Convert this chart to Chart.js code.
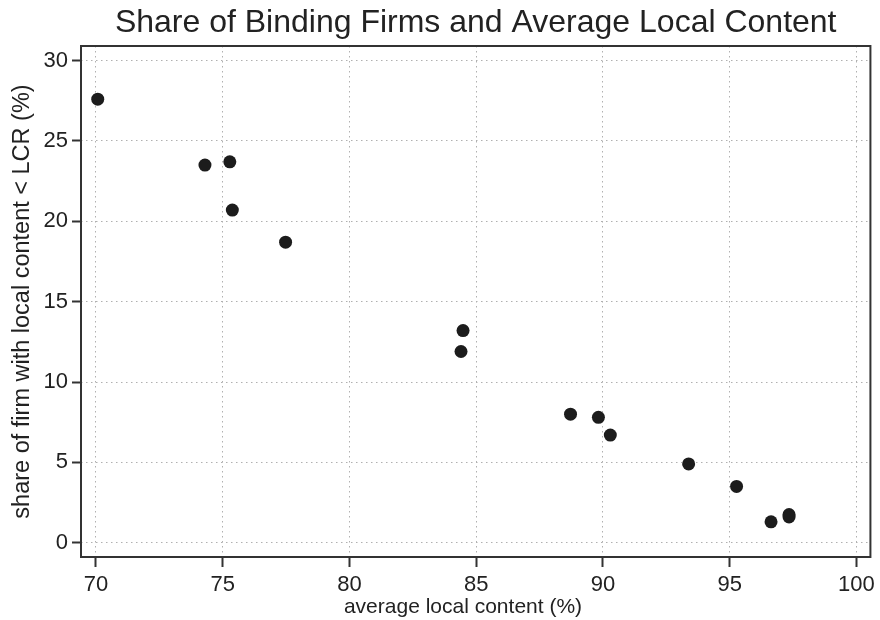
<!DOCTYPE html>
<html>
<head>
<meta charset="utf-8">
<script src="https://cdn.jsdelivr.net/npm/chart.js@4/dist/chart.umd.min.js"></script>
<style>
html,body{margin:0;padding:0;background:#fff;}
#wrap{width:880px;height:620px;}
</style>
</head>
<body>
<div id="wrap"><canvas id="c" width="880" height="620"></canvas></div>
<script>
const avgLocalContent = [70.07, 74.30, 75.28, 75.38, 77.48, 84.48, 84.40, 88.72, 89.82, 90.29, 93.38, 95.27, 96.63, 97.34, 97.34];
const shareBinding   = [27.6, 23.5, 23.7, 20.7, 18.7, 13.2, 11.9, 8.0, 7.8, 6.7, 4.9, 3.5, 1.3, 1.75, 1.6];
const xTicks = [70, 75, 80, 85, 90, 95, 100];
const yTicks = [0, 5, 10, 15, 20, 25, 30];
const xTitle = 'average local content (%)';

const FONT = '"Liberation Sans", Arial, Helvetica, sans-serif';
const TXT = '#222222';

const framePlugin = {
  id: 'frame',
  afterDatasetsDraw(chart) {
    const {ctx, chartArea: a} = chart;
    ctx.save();
    ctx.strokeStyle = '#333333';
    ctx.lineWidth = 2;
    ctx.strokeRect(a.left, a.top, a.right - a.left, a.bottom - a.top);
    ctx.restore();
  },
  afterDraw(chart) {
    const {ctx} = chart;
    ctx.save();
    ctx.fillStyle = TXT;
    ctx.font = '21px ' + FONT;
    ctx.textAlign = 'center';
    ctx.textBaseline = 'alphabetic';
    ctx.fillText(xTitle, 463, 613);
    ctx.restore();
  }
};

new Chart(document.getElementById('c'), {
  type: 'scatter',
  data: {
    datasets: [{
      data: avgLocalContent.map((x, i) => ({x: x, y: shareBinding[i]})),
      backgroundColor: '#1c1c1c',
      borderColor: '#1c1c1c',
      pointRadius: 6.5,
      pointHoverRadius: 6.5,
      borderWidth: 0
    }]
  },
  options: {
    responsive: false,
    animation: false,
    devicePixelRatio: 1,
    layout: {padding: {left: 0, right: 9, top: 0, bottom: 0}},
    plugins: {
      legend: {display: false},
      tooltip: {enabled: false},
      title: {
        display: true,
        text: 'Share of Binding Firms and Average Local Content',
        fullSize: false,
        color: TXT,
        font: {family: FONT, size: 32, weight: 'normal'},
        padding: {top: 4, bottom: 3.6}
      }
    },
    scales: {
      x: {
        type: 'linear',
        min: 69.41,
        max: 100.55,
        afterBuildTicks(s) { s.ticks = xTicks.map(v => ({value: v})); },
        afterFit(s) { s.height = 63; },
        ticks: {color: TXT, font: {family: FONT, size: 22}, padding: 5, maxRotation: 0},
        grid: {
          color: '#b0b0b0', lineWidth: 1,
          drawTicks: true, tickLength: 10, tickColor: '#333333', tickWidth: 2, tickBorderDash: []
        },
        border: {display: false, dash: [1.5, 3.5]},
        title: {display: false}
      },
      y: {
        type: 'linear',
        min: -0.89,
        max: 30.91,
        afterBuildTicks(s) { s.ticks = yTicks.map(v => ({value: v})); },
        afterFit(s) { s.width = 81; },
        ticks: {color: TXT, font: {family: FONT, size: 22}, padding: 4},
        grid: {
          color: '#b0b0b0', lineWidth: 1,
          drawTicks: true, tickLength: 9, tickColor: '#333333', tickWidth: 2, tickBorderDash: []
        },
        border: {display: false, dash: [1.5, 3.5]},
        title: {display: true, text: 'share of firm with local content < LCR (%)', color: TXT,
                font: {family: FONT, size: 23.5}, padding: {top: 8, bottom: 0}}
      }
    }
  },
  plugins: [framePlugin]
});
</script>
</body>
</html>
